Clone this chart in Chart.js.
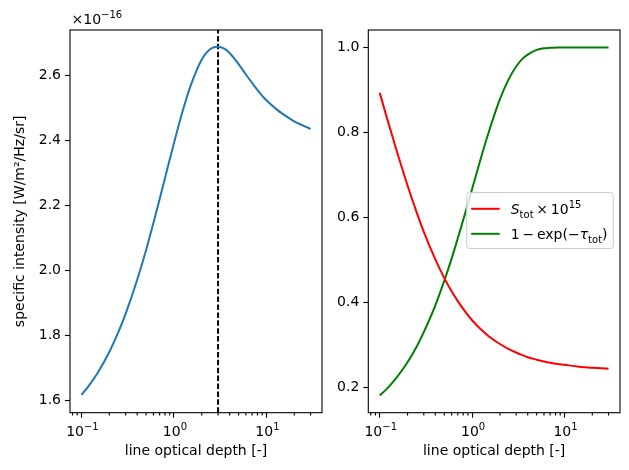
<!DOCTYPE html>
<html>
<head>
<meta charset="utf-8">
<script src="https://cdn.jsdelivr.net/npm/chart.js@4/dist/chart.umd.min.js"></script>
<style>
  html, body { margin: 0; padding: 0; background: #fff; }
  #wrap { position: relative; width: 629px; height: 470px; }
  #wrap canvas { position: absolute; left: 0; top: 0; }
</style>
</head>
<body>
<div id="wrap">
  <canvas id="intensityChart" width="629" height="470"></canvas>
  <canvas id="sourceChart" width="629" height="470"></canvas>
</div>
<script>
// line optical depth (x, shared by both panels)
const tau = [0.1, 0.12, 0.15, 0.2, 0.25, 0.3, 0.4, 0.5, 0.6, 0.7, 0.85, 1, 1.25, 1.5, 2, 2.5, 3, 3.5, 4, 5, 6, 7, 8.5, 10, 13, 15, 20, 25, 30];

// left panel: specific intensity, in units of 1e-16 W/m2/Hz/sr
const intensity = [1.618, 1.646, 1.686, 1.750, 1.810, 1.867, 1.971, 2.063, 2.146, 2.219, 2.313, 2.391, 2.492, 2.564, 2.648, 2.681, 2.687, 2.681, 2.668, 2.634, 2.602, 2.576, 2.545, 2.523, 2.494, 2.481, 2.458, 2.445, 2.435];
const peakTau = 3;

// right panel
const sourceTot = [0.893, 0.833, 0.762, 0.675, 0.613, 0.566, 0.501, 0.457, 0.426, 0.403, 0.377, 0.358, 0.336, 0.321, 0.302, 0.290, 0.282, 0.276, 0.271, 0.265, 0.261, 0.258, 0.255, 0.253, 0.250, 0.248, 0.246, 0.245, 0.244];
const absorbed = [0.181, 0.197, 0.221, 0.259, 0.295, 0.330, 0.393, 0.451, 0.503, 0.551, 0.613, 0.667, 0.741, 0.798, 0.878, 0.926, 0.955, 0.973, 0.983, 0.994, 0.998, 0.999, 1.000, 1.000, 1.000, 1.000, 1.000, 1.000, 1.000];

// axis ticks
const xTickValues = [0.1, 1, 10];
const xTickExponents = ['\u22121', '0', '1'];
const xMinorTicks = [0.08, 0.09, 0.2, 0.3, 0.4, 0.5, 0.6, 0.7, 0.8, 0.9, 2, 3, 4, 5, 6, 7, 8, 9, 20, 30];
const leftYTicks = [1.6, 1.8, 2.0, 2.2, 2.4, 2.6];
const rightYTicks = [0.2, 0.4, 0.6, 0.8, 1.0];

const xMin = 0.0752, xMax = 39.9;
const leftYMin = 1.5635, leftYMax = 2.7385;
const rightYMin = 0.1404, rightYMax = 1.0409;

Chart.defaults.font.family = "'DejaVu Sans', sans-serif";
Chart.defaults.font.size = 14;
Chart.defaults.color = '#000';

const toXY = (xs, ys) => xs.map((x, i) => ({ x: x, y: ys[i] }));

function xAxis() {
    return {
        type: 'logarithmic',
        min: xMin,
        max: xMax,
        bounds: 'data',
        afterBuildTicks: s => { s.ticks = xTickValues.map(v => ({ value: v })); },
        afterFit: s => { s.height = 57.3; s.paddingLeft = 0; s.paddingRight = 0; },
        // labels are drawn by the frame plugin (10 with a real superscript)
        ticks: { display: false, autoSkip: false, maxRotation: 0 },
        grid: { drawOnChartArea: false, drawTicks: true, tickLength: 5, tickColor: '#000', tickWidth: 1.1 },
        border: { display: false },
        title: { display: true, text: 'line optical depth [-]', color: '#000', padding: { top: 0, bottom: 10.6 } }
    };
}

function yAxis(min, max, tickList, width, title) {
    return {
        min: min,
        max: max,
        bounds: 'data',
        afterBuildTicks: s => { s.ticks = tickList.map(v => ({ value: v })); },
        afterFit: s => { s.width = width; s.paddingTop = 0; s.paddingBottom = 0; },
        ticks: { callback: v => Number(v).toFixed(1), padding: 4, color: '#000' },
        grid: { drawOnChartArea: false, drawTicks: true, tickLength: 5, tickColor: '#000', tickWidth: 1.1 },
        border: { display: false },
        title: title
            ? { display: true, text: title, color: '#000', padding: { top: 12, bottom: 0 } }
            : { display: false }
    };
}

// draws runs of text with sub/superscripts, returns end x
function drawRuns(ctx, runs, x, baseline, measureOnly) {
    runs.forEach(r => {
        const size = (r.sub || r.sup) ? 10 : 14;
        ctx.font = (r.italic ? 'italic ' : '') + size + "px 'DejaVu Sans', sans-serif";
        let y = baseline;
        if (r.sub) y += 3.5;
        if (r.sup) y -= 5.8;
        if (!measureOnly) ctx.fillText(r.t, x, y);
        x += ctx.measureText(r.t).width;
    });
    return x;
}

// box around the axes, minor log ticks and 10^n tick labels
const framePlugin = {
    id: 'frame',
    afterDraw(chart) {
        const { ctx, chartArea: a, scales: { x } } = chart;
        ctx.save();
        ctx.strokeStyle = '#000';
        ctx.lineWidth = 1.1;
        ctx.beginPath();
        xMinorTicks.forEach(v => {
            const px = x.getPixelForValue(v);
            ctx.moveTo(px, a.bottom);
            ctx.lineTo(px, a.bottom + 2.8);
        });
        ctx.stroke();
        ctx.strokeRect(a.left, a.top, a.right - a.left, a.bottom - a.top);

        ctx.fillStyle = '#000';
        ctx.textBaseline = 'alphabetic';
        xTickValues.forEach((v, i) => {
            const runs = [{ t: '10' }, { t: xTickExponents[i], sup: true }];
            const w = drawRuns(ctx, runs, 0, 0, true);
            drawRuns(ctx, runs, x.getPixelForValue(v) - w / 2 + 1, a.bottom + 23.3);
        });
        ctx.restore();
    }
};

const offsetTextPlugin = {
    id: 'offsetText',
    afterDraw(chart) {
        const { ctx, chartArea: a } = chart;
        ctx.save();
        ctx.fillStyle = '#000';
        ctx.textBaseline = 'alphabetic';
        drawRuns(ctx, [{ t: '\u00D710' }, { t: '\u221216', sup: true }], a.left + 1.5, a.top - 6);
        ctx.restore();
    }
};

const legendRuns = [
    [{ t: 'S', italic: true }, { t: 'tot', sub: true }, { t: '\u2009\u00D7\u200910' }, { t: '15', sup: true }],
    [{ t: '1\u2009\u2212\u2009exp(\u2212' }, { t: '\u03C4', italic: true }, { t: 'tot', sub: true }, { t: ')' }]
];

const legendPlugin = {
    id: 'mathLegend',
    afterDraw(chart) {
        const { ctx, chartArea: a } = chart;
        const left = a.right - 153.3, top = a.top + 162.5, w = 146.6, h = 56;
        ctx.save();
        ctx.fillStyle = 'rgba(255,255,255,0.8)';
        ctx.strokeStyle = '#cccccc';
        ctx.lineWidth = 1;
        ctx.beginPath();
        ctx.roundRect(left, top, w, h, 3);
        ctx.fill();
        ctx.stroke();
        chart.data.datasets.forEach((ds, i) => {
            const y = top + 16.3 + i * 25;
            ctx.strokeStyle = ds.borderColor;
            ctx.lineWidth = 2;
            ctx.beginPath();
            ctx.moveTo(left + 4.5, y);
            ctx.lineTo(left + 33, y);
            ctx.stroke();
            ctx.fillStyle = '#000';
            ctx.textBaseline = 'alphabetic';
            drawRuns(ctx, legendRuns[i], left + 44, y + 5.2);
        });
        ctx.restore();
    }
};

const common = {
    responsive: false,
    animation: false,
    plugins: { legend: { display: false }, tooltip: { enabled: false } },
    elements: { point: { radius: 0 } }
};

new Chart(document.getElementById('intensityChart'), {
    type: 'line',
    data: {
        datasets: [{
            label: 'specific intensity',
            data: toXY(tau, intensity),
            borderColor: '#1f77b4',
            borderWidth: 2,
            cubicInterpolationMode: 'monotone'
        }, {
            label: 'peak',
            data: [{ x: peakTau, y: leftYMin }, { x: peakTau, y: leftYMax }],
            borderColor: '#000',
            borderWidth: 2,
            borderDash: [5.5, 2.4]
        }]
    },
    options: Object.assign({}, common, {
        layout: { padding: { left: 0, right: 307, top: 30, bottom: 0 } },
        scales: {
            x: xAxis(),
            y: yAxis(leftYMin, leftYMax, leftYTicks, 70, 'specific intensity [W/m\u00B2/Hz/sr]')
        }
    }),
    plugins: [framePlugin, offsetTextPlugin]
});

new Chart(document.getElementById('sourceChart'), {
    type: 'line',
    data: {
        datasets: [{
            label: 'S_tot \u00D7 10^15',
            data: toXY(tau, sourceTot),
            borderColor: 'red',
            borderWidth: 2,
            cubicInterpolationMode: 'monotone'
        }, {
            label: '1 \u2212 exp(\u2212\u03C4_tot)',
            data: toXY(tau, absorbed),
            borderColor: 'green',
            borderWidth: 2,
            cubicInterpolationMode: 'monotone'
        }]
    },
    options: Object.assign({}, common, {
        layout: { padding: { left: 330, right: 9, top: 30, bottom: 0 } },
        scales: {
            x: xAxis(),
            y: yAxis(rightYMin, rightYMax, rightYTicks, 38.3, null)
        }
    }),
    plugins: [framePlugin, legendPlugin]
});
</script>
</body>
</html>
